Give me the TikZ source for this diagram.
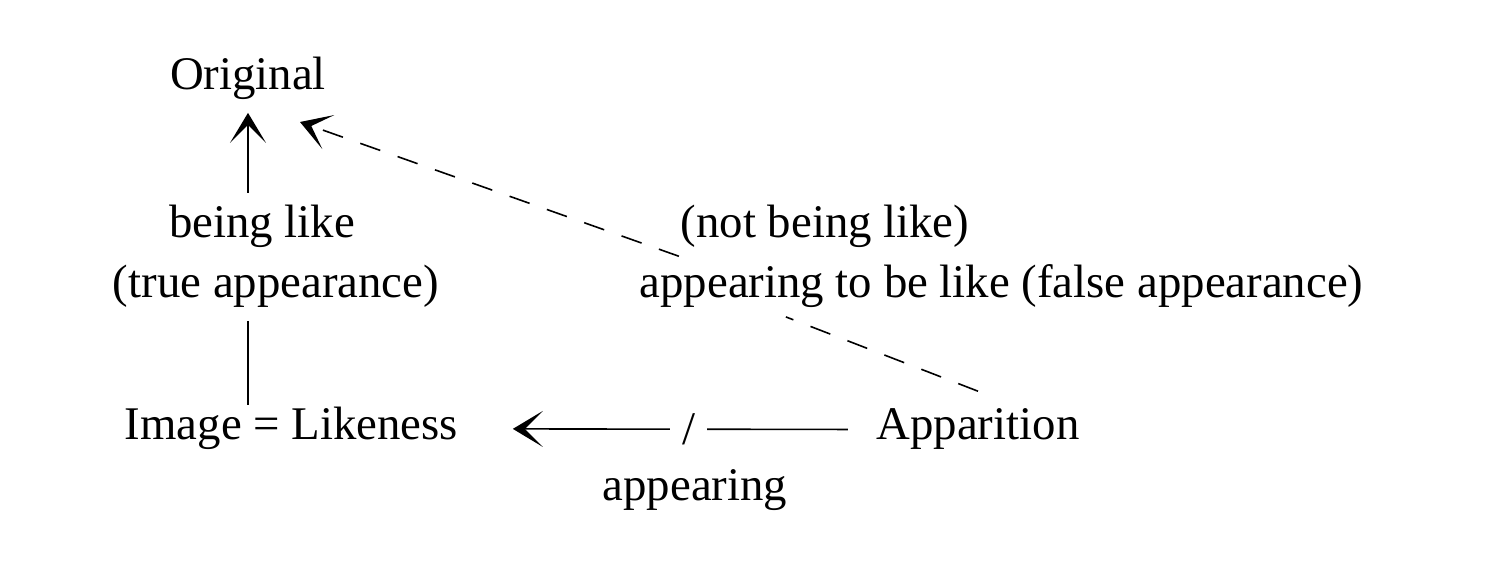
\documentclass[tikz,border=0pt]{standalone}
\usepackage{fontspec}
\setmainfont{Liberation Serif}
\usetikzlibrary{arrows.meta}
\begin{document}
\begin{tikzpicture}[x=0.25pt, y=-0.25pt, >={Stealth[length=7.5pt,width=9pt,inset=4.5pt]}]
	\tikzstyle{word} = [anchor=base,inner sep=3pt,font=\fontsize{11.7pt}{14pt}\selectfont]
	\tikzstyle{gap} = [word,fill=white]
	\tikzstyle{seem} = [dash pattern=on 5.3pt off 4.6pt]
	\useasboundingbox (0,0) rectangle (1490,566);
	\node[word](orig)at (248,90){Original};
	\node[word](like-1)at (262,238){being like};
	\node[word](like-2)at (276,298){(true appearance)};
	\node[word](img)at (291.5,440){Image = Likeness};
	\node[word,inner sep=4.25pt](app)at (978,440){Apparition};
	\node[word](notlike-1)at (825,238){(not being like)};
	\node[word,inner sep=2pt](notlike-2)at (1001.5,298){appearing to be like (false appearance)};
	\node[word](appr)at (695,500){appearing};
	\coordinate(tip)at (300,122);
	
	\path[->] (like-1.north -| orig.south) edge (orig.south)
	(app.west) edge[shorten <=2.75pt,shorten >=10.5pt] node[gap,anchor=center,pos=0.438]{/} (img.east);
	\path (like-2.south -| orig.south) edge[shorten >=-2.5pt] (img.north -| orig.south);
	
	\path[seem] (app.north) edge ([xshift=38.75pt]notlike-2.south west);
	\path[seem,->] ([xshift=12pt]notlike-2.north west) edge (tip);
	
\end{tikzpicture}
\end{document}
